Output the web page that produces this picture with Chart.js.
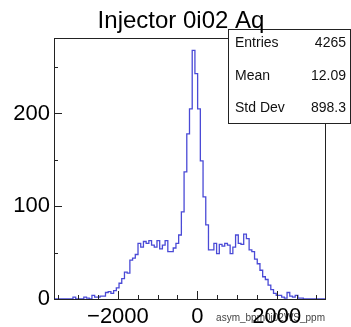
<!DOCTYPE html>
<html>
<head>
<meta charset="utf-8">
<script src="https://cdn.jsdelivr.net/npm/chart.js@4.4.1/dist/chart.umd.min.js"></script>
<style>
  html, body { margin: 0; padding: 0; background: #fff; }
  #wrap { width: 351px; height: 327px; }
</style>
</head>
<body>
<div id="wrap"><canvas id="histo-Chart" width="351" height="327"></canvas></div>
<script>
// histogram contents, one value per bin
var counts = [
  0, 0, 0, 0, 0, 0, 0, 0, 2, 0,
  0, 0, 2, 1, 0, 4, 2, 2, 3, 3,
  7, 8, 6, 9, 12, 17, 22, 29, 28, 42,
  44, 48, 60, 56, 62, 60, 63, 58, 56, 63,
  54, 58, 63, 51, 51, 55, 60, 69, 94, 137,
  178, 205, 268, 243, 205, 149, 110, 80, 53, 53,
  60, 49, 59, 57, 60, 58, 49, 56, 69, 60,
  59, 70, 65, 53, 51, 43, 38, 31, 24, 21,
  15, 10, 6, 4, 4, 2, 1, 7, 3, 2,
  4, 1, 1, 0, 0, 0, 0, 0, 0, 0
];
var xRange = [-3610, 3215];
var yRange = [0, 281.4];
var xLabelTicks = [-2000, 0, 2000];
var yLabelTicks = [0, 100, 200];
var xMinorStep = 500;
var yMinorStep = 50;
var histTitle = "Injector 0i02 Aq";
var xTitle = "asym_bpm0i02WS_ppm";
var statNames = ["Entries", "Mean", "Std Dev"];
var statValues = ["4265", "12.09", "898.3"];

var FONT = "'Liberation Sans', Arial, Helvetica, sans-serif";

function fmt(v) {
    return (v < 0 ? "\u2212" : "") + Math.abs(v)
}

var points = []
var binWidth = (xRange[1] - xRange[0]) / counts.length
for (let i = 0; i < counts.length; i++) {
    points.push({ x: xRange[0] + i * binWidth, y: counts[i] })
}
points.push({ x: xRange[1], y: counts[counts.length - 1] })

var rootDecor = {
    id: 'rootDecor',
    afterDatasetsDraw: function (chart) {
        var ctx = chart.ctx
        var a = chart.chartArea
        var sx = chart.scales.x
        var sy = chart.scales.y
        ctx.save()
        // frame
        ctx.strokeStyle = "#222"
        ctx.lineWidth = 1
        ctx.strokeRect(Math.round(a.left) + 0.5, Math.round(a.top) + 0.5,
                       Math.round(a.right - a.left), Math.round(a.bottom - a.top))
        // x ticks, inside the frame
        ctx.beginPath()
        for (let v = Math.ceil(xRange[0] / xMinorStep) * xMinorStep; v <= xRange[1]; v += xMinorStep) {
            var px = Math.round(sx.getPixelForValue(v)) + 0.5
            var len = (v % 2000 == 0) ? 8 : 4
            ctx.moveTo(px, a.bottom)
            ctx.lineTo(px, a.bottom - len)
        }
        // y ticks
        for (let v = 0; v <= yRange[1]; v += yMinorStep) {
            var py = Math.round(sy.getPixelForValue(v)) + 0.5
            var len = (v % 100 == 0) ? 8 : 4
            ctx.moveTo(a.left, py)
            ctx.lineTo(a.left + len, py)
        }
        ctx.stroke()

        // x axis title (the tick labels sit on top of it)
        ctx.fillStyle = "#444"
        ctx.font = "10px " + FONT
        ctx.textAlign = "right"
        ctx.textBaseline = "alphabetic"
        ctx.fillText(xTitle, a.right, 321)

        // x tick labels
        ctx.fillStyle = "#000"
        ctx.font = "22px " + FONT
        ctx.textAlign = "center"
        for (let i = 0; i < xLabelTicks.length; i++) {
            ctx.fillText(fmt(xLabelTicks[i]), sx.getPixelForValue(xLabelTicks[i]), 323)
        }

        // stats box
        var bx = 228.5, by = 29.5, bw = 122, bh = 94
        ctx.fillStyle = "#fff"
        ctx.fillRect(bx, by, bw, bh)
        ctx.strokeStyle = "#222"
        ctx.strokeRect(bx, by, bw, bh)
        ctx.fillStyle = "#111"
        ctx.font = "14px " + FONT
        for (let i = 0; i < statNames.length; i++) {
            var yy = 47 + i * 32.5
            ctx.textAlign = "left"
            ctx.fillText(statNames[i], 235, yy)
            ctx.textAlign = "right"
            ctx.fillText(statValues[i], 346, yy)
        }

        // title
        ctx.fillStyle = "#000"
        ctx.font = "24px " + FONT
        ctx.textAlign = "center"
        ctx.fillText(histTitle, 181, 28)
        ctx.restore()
    }
}

var histConfig = {
    type: 'line',
    data: {
        datasets: [{
            data: points,
            stepped: 'after',
            borderColor: "#4a4ad6",
            borderWidth: 1.3,
            pointRadius: 0,
            fill: false,
            tension: 0
        }]
    },
    options: {
        responsive: false,
        animation: false,
        devicePixelRatio: 1,
        layout: { padding: { left: 0, top: 38, right: 26, bottom: 0 } },
        plugins: {
            legend: { display: false },
            tooltip: { enabled: false }
        },
        scales: {
            x: {
                type: 'linear',
                min: xRange[0],
                max: xRange[1],
                grid: { display: false, drawTicks: false },
                border: { display: false },
                afterFit: function (scale) { scale.height = 28 },
                ticks: { display: false }
            },
            y: {
                min: yRange[0],
                max: yRange[1],
                grid: { display: false, drawTicks: false },
                border: { display: false },
                afterFit: function (scale) { scale.width = 54 },
                ticks: {
                    stepSize: yMinorStep,
                    autoSkip: false,
                    padding: 4,
                    color: "#000",
                    font: { family: FONT, size: 22 },
                    callback: function (v) { return yLabelTicks.indexOf(v) >= 0 ? String(v) : '' }
                }
            }
        }
    },
    plugins: [rootDecor]
}

var ctx = document.getElementById("histo-Chart").getContext("2d")
var histChart = new Chart(ctx, histConfig)
</script>
</body>
</html>
